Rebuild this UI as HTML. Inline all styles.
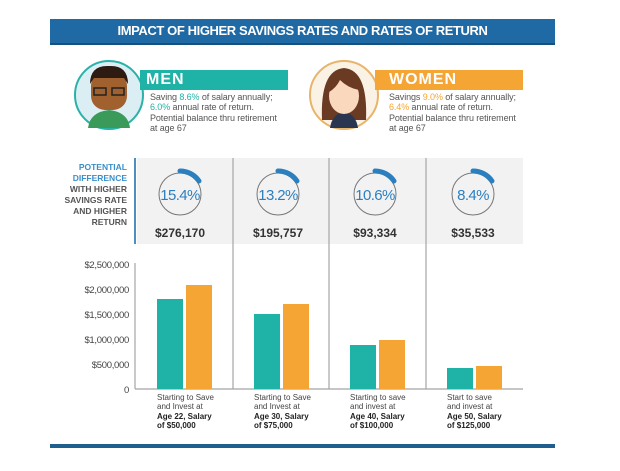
<!DOCTYPE html>
<html><head><meta charset="utf-8"><style>
body{margin:0;background:#fff;font-family:"Liberation Sans",sans-serif;}
.wrap{position:relative;width:620px;height:471px;overflow:hidden;}
.a{position:absolute;}
</style></head><body><div class="wrap">
<div class="a" style="left:50px;top:19px;width:505px;height:24px;background:#1f6aa5;border-bottom:2px solid #17507d;color:#fff;font-weight:bold;font-size:13px;line-height:24px;text-align:center;letter-spacing:-0.4px">IMPACT OF HIGHER SAVINGS RATES AND RATES OF RETURN</div>

<svg class="a" style="left:0;top:0" width="620" height="471">
 <circle cx="109" cy="95" r="34" fill="#dbeef3" stroke="#2ab1a8" stroke-width="2"/>
 <path d="M88 128 Q90 112 109 110 Q128 112 130 128 Z" fill="#3a9a5a"/>
 <rect x="91" y="72" width="36" height="38" rx="14" fill="#a0612e"/>
 <path d="M90 84 Q90 65 109 66 Q128 65 128 84 L124 78 L94 78 Z" fill="#2d1a10"/>
 <rect x="94" y="88" width="12" height="7" fill="none" stroke="#222" stroke-width="1.5"/>
 <rect x="112" y="88" width="12" height="7" fill="none" stroke="#222" stroke-width="1.5"/>
 <circle cx="344" cy="95" r="34" fill="#fbf2e6" stroke="#e8b46a" stroke-width="2"/>
 <path d="M322 120 Q320 70 344 68 Q368 70 366 120 Z" fill="#6a3a22"/>
 <path d="M330 128 Q332 114 344 112 Q356 114 358 128 Z" fill="#2a3550"/>
 <ellipse cx="344" cy="96" rx="15" ry="18" fill="#f9d8bd"/>
 <path d="M329 92 Q330 74 344 75 Q358 74 359 90 Q348 88 340 80 Q336 88 329 92Z" fill="#6a3a22"/>
 <rect x="137" y="158" width="386" height="86" fill="#f2f2f3"/>
 <rect x="134" y="158" width="2" height="86" fill="#4d8fc0"/>
 <g stroke="#a5a5a5" stroke-width="1.2">
  <line x1="233" y1="158" x2="233" y2="389"/><line x1="329" y1="158" x2="329" y2="389"/><line x1="426" y1="158" x2="426" y2="389"/>
  <line x1="135" y1="263" x2="135" y2="389"/><line x1="135" y1="389" x2="523" y2="389"/>
 </g>
 <g fill="none" stroke="#777" stroke-width="1">
  <circle cx="180" cy="194" r="21"/><circle cx="278" cy="194" r="21"/><circle cx="375" cy="194" r="21"/><circle cx="473" cy="194" r="21"/>
 </g>
 <g stroke="#2b7fbf" stroke-width="5" stroke-linecap="round" fill="none">
  <path d="M180 171 A23 23 0 0 1 199 181"/>
  <path d="M278 171 A23 23 0 0 1 297 181"/>
  <path d="M375 171 A23 23 0 0 1 394 181"/>
  <path d="M473 171 A23 23 0 0 1 492 181"/>
 </g>
 <g font-size="15" fill="#2b7fbf" text-anchor="middle" letter-spacing="-0.6">
  <text x="180" y="200">15.4%</text><text x="278" y="200">13.2%</text><text x="375" y="200">10.6%</text><text x="473" y="200">8.4%</text>
 </g>
 <g font-size="12" font-weight="bold" fill="#333" text-anchor="middle">
  <text x="180" y="237">$276,170</text><text x="278" y="237">$195,757</text><text x="375" y="237">$93,334</text><text x="473" y="237">$35,533</text>
 </g>
 <g font-size="8.5" font-weight="bold" text-anchor="end">
  <text x="127" y="170" fill="#3a8fc9">POTENTIAL</text>
  <text x="127" y="181" fill="#3a8fc9">DIFFERENCE</text>
  <text x="127" y="192" fill="#555">WITH HIGHER</text>
  <text x="127" y="203" fill="#555">SAVINGS RATE</text>
  <text x="127" y="214" fill="#555">AND HIGHER</text>
  <text x="127" y="225" fill="#555">RETURN</text>
 </g>
 <g font-size="9.5" fill="#444" text-anchor="end" letter-spacing="-0.3">
  <text x="129" y="268">$2,500,000</text><text x="129" y="293">$2,000,000</text><text x="129" y="318">$1,500,000</text><text x="129" y="343">$1,000,000</text><text x="129" y="368">$500,000</text><text x="129" y="393">0</text>
 </g>
 <g fill="#1fb2a6">
  <rect x="157" y="299" width="26" height="90"/><rect x="254" y="314" width="26" height="75"/><rect x="350" y="345" width="26" height="44"/><rect x="447" y="368" width="26" height="21"/>
 </g>
 <g fill="#f5a533">
  <rect x="186" y="285" width="26" height="104"/><rect x="283" y="304" width="26" height="85"/><rect x="379" y="340" width="26" height="49"/><rect x="476" y="366" width="26" height="23"/>
 </g>
 <g font-size="8" fill="#444">
  <text x="157" y="400">Starting to Save</text><text x="157" y="409">and Invest at</text>
  <text x="157" y="419" font-weight="bold" fill="#222">Age 22, Salary</text><text x="157" y="428" font-weight="bold" fill="#222">of $50,000</text>
  <text x="254" y="400">Starting to Save</text><text x="254" y="409">and Invest at</text>
  <text x="254" y="419" font-weight="bold" fill="#222">Age 30, Salary</text><text x="254" y="428" font-weight="bold" fill="#222">of $75,000</text>
  <text x="350" y="400">Starting to save</text><text x="350" y="409">and invest at</text>
  <text x="350" y="419" font-weight="bold" fill="#222">Age 40, Salary</text><text x="350" y="428" font-weight="bold" fill="#222">of $100,000</text>
  <text x="447" y="400">Start to save</text><text x="447" y="409">and invest at</text>
  <text x="447" y="419" font-weight="bold" fill="#222">Age 50, Salary</text><text x="447" y="428" font-weight="bold" fill="#222">of $125,000</text>
 </g>
 <rect x="50" y="444" width="505" height="4" fill="#1f5f8f"/>
</svg>

<div class="a" style="left:140px;top:70px;width:148px;height:20px;background:#1fb2a6;color:#fff;font-size:16px;font-weight:bold;line-height:20px;padding-left:6px;box-sizing:border-box;letter-spacing:1px">MEN</div>
<div class="a" style="left:150px;top:92px;font-size:9px;color:#555;line-height:10.3px;letter-spacing:-0.1px">Saving <span style="color:#1fb2a6">8.6%</span> of salary annually;<br><span style="color:#1fb2a6">6.0%</span> annual rate of return.<br>Potential balance thru retirement<br>at age 67</div>
<div class="a" style="left:375px;top:70px;width:148px;height:20px;background:#f5a533;color:#fff;font-size:16px;font-weight:bold;line-height:20px;padding-left:14px;box-sizing:border-box;letter-spacing:1px">WOMEN</div>
<div class="a" style="left:389px;top:92px;font-size:9px;color:#555;line-height:10.3px;letter-spacing:-0.1px">Savings <span style="color:#f5a533">9.0%</span> of salary annually;<br><span style="color:#f5a533">6.4%</span> annual rate of return.<br>Potential balance thru retirement<br>at age 67</div>
</div></body></html>
